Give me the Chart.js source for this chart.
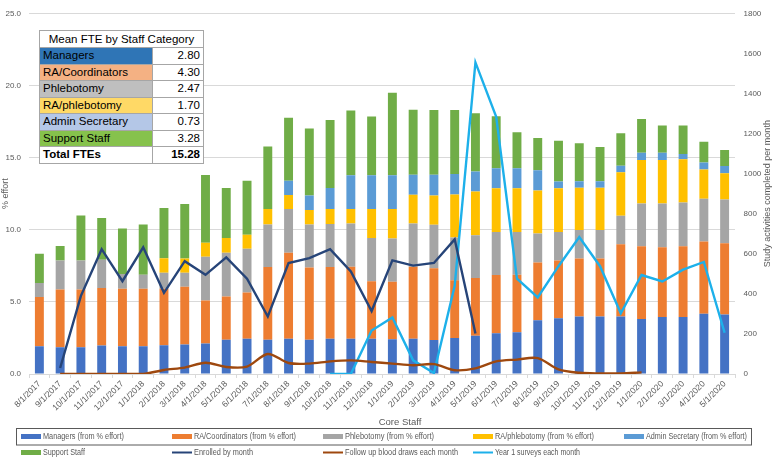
<!DOCTYPE html>
<html><head><meta charset="utf-8">
<script src="https://cdn.jsdelivr.net/npm/chart.js@4.4.1/dist/chart.umd.min.js"></script>
<style>
html,body{margin:0;padding:0;background:#fff;}
#wrap{position:relative;width:777px;height:457px;overflow:hidden;background:#fff;}
#c{position:absolute;left:0;top:0;}
#fte{position:absolute;left:39px;top:30px;border-collapse:collapse;font-family:"Liberation Sans",Arial,sans-serif;font-size:11.5px;color:#000;background:#fff;border:1.5px solid #404040;}
#fte td{border:1px solid #a6a6a6;padding:0 3px;height:15.5px;line-height:15px;white-space:nowrap;}
#fte td.n{width:106px;}
#fte td.v{width:44px;text-align:right;}
#fte tr.t td{text-align:center;height:16px;font-size:11.5px;}
#fte tr.tot td{font-weight:bold;}
</style>
</head><body>
<div id="wrap">
<canvas id="c" width="777" height="457"></canvas>
<table id="fte">
<tr class="t"><td colspan="2">Mean FTE by Staff Category</td></tr>
<tr><td class="n" style="background:#2F75B6">Managers</td><td class="v">2.80</td></tr>
<tr><td class="n" style="background:#F4B183">RA/Coordinators</td><td class="v">4.30</td></tr>
<tr><td class="n" style="background:#BFBFBF">Phlebotomy</td><td class="v">2.47</td></tr>
<tr><td class="n" style="background:#FFD966">RA/phlebotomy</td><td class="v">1.70</td></tr>
<tr><td class="n" style="background:#B4C7E7">Admin Secretary</td><td class="v">0.73</td></tr>
<tr><td class="n" style="background:#86C24C">Support Staff</td><td class="v">3.28</td></tr>
<tr class="tot"><td class="n">Total FTEs</td><td class="v">15.28</td></tr>
</table>
</div>
<script>
const categories = ["8/1/2017","9/1/2017","10/1/2017","11/1/2017","12/1/2017","1/1/2018","2/1/2018","3/1/2018","4/1/2018","5/1/2018","6/1/2018","7/1/2018","8/1/2018","9/1/2018","10/1/2018","11/1/2018","12/1/2018","1/1/2019","2/1/2019","3/1/2019","4/1/2019","5/1/2019","6/1/2019","7/1/2019","8/1/2019","9/1/2019","10/1/2019","11/1/2019","12/1/2019","1/1/2020","2/1/2020","3/1/2020","4/1/2020","5/1/2020"];

const managers = [1.93,1.86,1.86,1.97,1.93,1.93,2.00,2.04,2.12,2.38,2.44,2.38,2.44,2.38,2.44,2.44,2.44,2.40,2.44,2.35,2.49,2.65,2.83,2.89,3.72,3.86,3.99,3.99,3.99,3.81,3.95,3.95,4.17,4.13];
const raCoordinators = [3.41,3.99,3.99,3.99,3.97,3.97,3.90,4.00,2.97,3.00,3.21,5.04,5.97,5.00,4.98,5.00,3.99,3.99,5.00,4.98,4.01,4.01,4.03,3.99,4.00,4.01,4.01,4.01,5.00,5.05,4.84,4.91,5.02,4.93];
const phlebotomy = [0.96,2.02,2.02,1.95,1.03,0.98,1.12,0.98,3.04,3.03,3.03,2.94,3.02,2.98,2.98,2.99,2.99,3.00,2.99,3.01,2.96,2.96,2.98,2.96,2.01,1.97,1.98,1.98,1.97,2.96,3.03,3.02,2.96,3.03];
const raPhlebotomy = [0,0,0,0,0,0,1.01,0.98,0.96,1.01,0.98,1.07,0.97,1.01,1.03,1.00,2.01,2.04,1.99,2.04,2.98,3.03,3.03,3.03,2.98,3.03,2.93,2.93,3.03,3.02,3.02,3.01,2.02,1.83];
const adminSecretary = [0,0,0,0,0,0,0,0,0,0,0,0,0.99,1.01,1.46,2.35,2.35,2.35,1.39,1.43,1.43,1.39,1.39,1.39,1.42,0.47,0.45,0.45,0.45,0.50,0.50,0.36,0.49,0.50];
const supportStaff = [2.04,1.01,3.12,2.90,3.16,3.48,3.48,3.78,4.70,3.47,3.73,4.33,4.37,4.64,4.71,4.48,4.06,5.71,4.51,4.48,4.42,4.03,3.61,2.49,2.23,2.83,2.64,2.38,2.24,2.33,1.88,1.97,1.44,1.10];

const enrolled = [null,30,390,623,463,632,405,563,495,582,476,287,554,578,623,512,314,567,541,554,672,202,null,null,null,null,null,null,null,null,null,null,null,null];
const followUpDraws = [null,0,0,0,0,0,20,32,56,35,37,100,55,52,63,68,60,52,44,49,19,28,63,72,79,23,6,3,3,8,null,null,null,null];
const year1Surveys = [null,null,null,null,null,null,null,null,null,null,null,null,null,null,0,0,217,282,68,5,440,1555,1283,476,382,538,683,538,303,494,462,521,559,206];

const leftTicks = [0,5,10,15,20,25];
const rightTicks = [0,200,400,600,800,1000,1200,1400,1600,1800];

const FAM = "'Liberation Sans', Arial, sans-serif";
const TXT = '#595959';

function bar(label, data, color){
  return {type:'bar', label, data, backgroundColor:color, yAxisID:'y', stack:'s', order:1,
          barPercentage:0.43, categoryPercentage:1.0, borderWidth:0};
}
function line(label, data, color, tension){
  return {type:'line', label, data, borderColor:color, backgroundColor:color, yAxisID:'y1', order:0,
          borderWidth:2.4, pointRadius:0, tension:tension, fill:false, spanGaps:false};
}

// draw text horizontally scaled to a given width (mimics a narrower font)
function fitText(c, text, x, y, targetW){
  const w = c.measureText(text).width;
  c.save(); c.translate(x, y); c.scale(targetW / w, 1); c.fillText(text, 0, 0); c.restore();
}

const customDraw = {
  id:'customDraw',
  afterDraw(chart){
    const c = chart.ctx;
    const a = chart.chartArea;
    c.save();
    c.fillStyle = TXT;
    c.font = "9px " + FAM;
    c.textAlign = 'center'; c.textBaseline = 'middle';
    c.save(); c.translate(6,(a.top+a.bottom)/2); c.rotate(-Math.PI/2); c.fillText('% effort',0,0); c.restore();
    c.save(); c.translate(768,(a.top+a.bottom)/2); c.rotate(-Math.PI/2); c.fillText('Study activities completed per month',0,0); c.restore();
    c.font = "9.5px " + FAM;
    c.fillText('Core Staff', 400, 422);
    // legend box
    c.strokeStyle = '#595959'; c.lineWidth = 1;
    c.strokeRect(16.5, 428.5, 735, 16.5);
    const cols = [21,172,323,473,624];
    const rows = [436.5,452.5];
    const textW = [81,102,89,99,101, 42,59,113,85];
    c.font = "8.5px " + FAM;
    c.textAlign = 'left';
    chart.data.datasets.forEach((ds,i)=>{
      const col = i < 5 ? i : i-5;
      const row = i < 5 ? 0 : 1;
      const x = cols[col], y = rows[row];
      if (ds.type === 'line'){
        c.strokeStyle = ds.borderColor; c.lineWidth = 2;
        c.beginPath(); c.moveTo(x, y); c.lineTo(x+20, y); c.stroke();
      } else {
        c.fillStyle = ds.backgroundColor;
        c.fillRect(x, y-2.5, 20, 5);
      }
      c.fillStyle = TXT;
      fitText(c, ds.label, x+22, y, textW[i]);
    });
    c.restore();
  }
};

new Chart(document.getElementById('c'), {
  data:{
    labels: categories,
    datasets:[
      bar('Managers (from % effort)', managers, '#4472C4'),
      bar('RA/Coordinators (from % effort)', raCoordinators, '#ED7D31'),
      bar('Phlebotomy (from % effort)', phlebotomy, '#A5A5A5'),
      bar('RA/phlebotomy (from % effort)', raPhlebotomy, '#FFC000'),
      bar('Admin Secretary (from % effort)', adminSecretary, '#5B9BD5'),
      bar('Support Staff', supportStaff, '#70AD47'),
      line('Enrolled by month', enrolled, '#264478', 0),
      line('Follow up blood draws each month', followUpDraws, '#9E480E', 0.3),
      line('Year 1 surveys each month', year1Surveys, '#1DB0EA', 0)
    ]
  },
  options:{
    responsive:false, animation:false, devicePixelRatio:1,
    layout:{padding:{top:3,left:0,right:0,bottom:0}},
    plugins:{legend:{display:false}, tooltip:{enabled:false}, title:{display:false}},
    scales:{
      x:{
        stacked:true, offset:true,
        grid:{display:true, drawOnChartArea:false, drawTicks:true, tickLength:4, color:'#d9d9d9', offset:true},
        border:{display:true, color:'#d9d9d9'},
        ticks:{autoSkip:false, maxRotation:45, minRotation:45, padding:1, color:TXT, font:{size:8.5, family:FAM}},
        afterFit(s){ s.height = 83; }
      },
      y:{
        stacked:true, position:'left', min:0, max:25,
        afterBuildTicks(s){ s.ticks = leftTicks.map(v=>({value:v})); },
        ticks:{padding:8, color:TXT, font:{size:8, family:FAM}, callback:v=>Number(v).toFixed(1)},
        grid:{color:'#d9d9d9', drawTicks:false},
        border:{display:false},
        afterFit(s){ s.width = 29; }
      },
      y1:{
        position:'right', min:0, max:1800,
        afterBuildTicks(s){ s.ticks = rightTicks.map(v=>({value:v})); },
        ticks:{padding:8.5, color:TXT, font:{size:8, family:FAM}, callback:v=>String(v)},
        grid:{display:false, drawTicks:false},
        border:{display:false},
        afterFit(s){ s.width = 42; }
      }
    }
  },
  plugins:[customDraw]
});
</script>
</body></html>
